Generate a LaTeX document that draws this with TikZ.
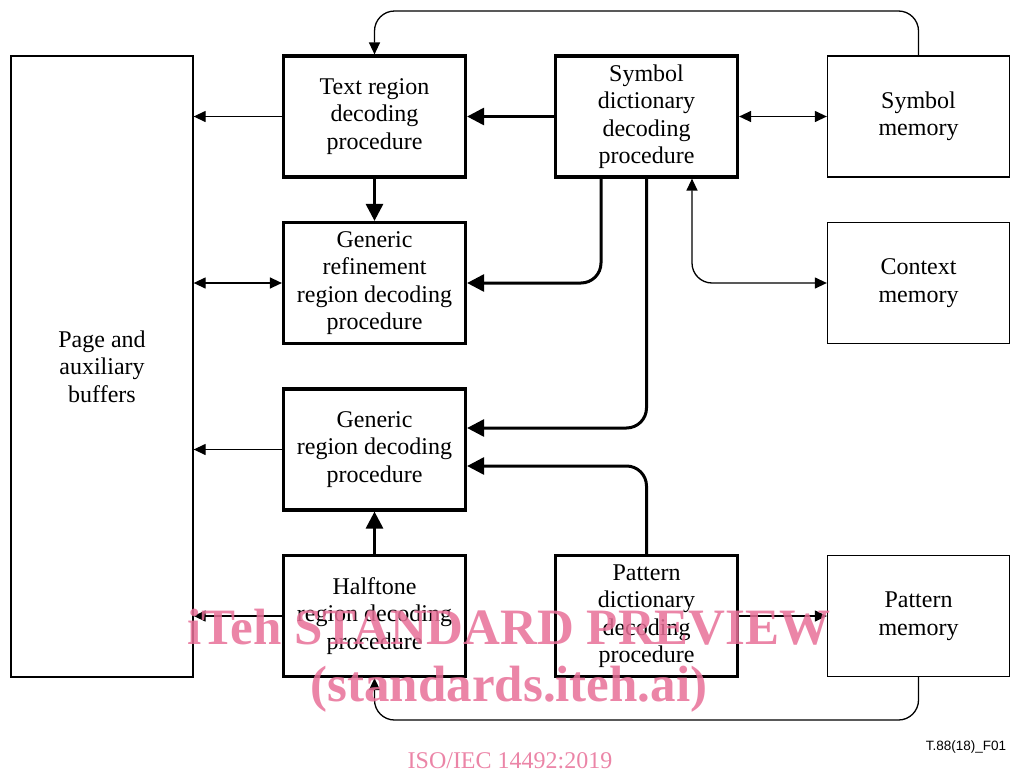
\documentclass[tikz,border=0pt]{standalone}
\usepackage{fontspec}
\setmainfont{Liberation Serif}
\newfontfamily\labelfont{Liberation Sans}
\usetikzlibrary{positioning,arrows.meta}
\definecolor{wmpink}{RGB}{232,112,152}

\begin{document}
\begin{tikzpicture}[x=1pt,y=1pt,on grid,node distance=166.5pt and 272pt,
    box/.style={draw,rectangle,align=center,minimum width=182pt,minimum height=121pt,
                inner sep=2pt,font=\fontsize{24}{27.5}\selectfont},
    proc node/.style={box,line width=3.2pt},
    mem node/.style={box,line width=1.3pt},
    thin link/.style={line width=1.3pt,-{Triangle[length=12pt,width=11pt]}},
    thick link/.style={line width=3pt,-{Triangle[length=17pt,width=17pt]}},
    both thin/.style={line width=1.3pt,{Triangle[length=12pt,width=11pt]}-{Triangle[length=12pt,width=11pt]}},
    wm/.style={text=wmpink,opacity=0.85,font=\bfseries\fontsize{51}{51}\selectfont}]

  \useasboundingbox (0,0) rectangle (1013,-774);

  \node[mem node,minimum height=621pt] (page) at (102,-366.5) {Page and\\auxiliary\\buffers};

  \node[proc node] (text) at (374.5,-116.5) {Text region\\decoding\\procedure};
  \node[proc node] (symdict) [right=of text] {Symbol\\dictionary\\decoding\\procedure};
  \node[mem node] (symmem) [right=of symdict] {Symbol\\memory};
  \node[proc node] (refine) [below=of text] {Generic\\refinement\\region decoding\\procedure};
  \node[mem node] (context) [below=of symmem] {Context\\memory};
  \node[proc node] (generic) [below=of refine] {Generic\\region decoding\\procedure};
  \node[proc node] (halftone) [below=of generic] {Halftone\\region decoding\\procedure};
  \node[proc node] (patdict) [right=of halftone] {Pattern\\dictionary\\decoding\\procedure};
  \node[mem node] (patmem) [right=of patdict] {Pattern\\memory};

  \coordinate (top) at (0,-11);
  \coordinate (bottom) at (0,-720);

  \draw[thin link] (text.west) -- (text.west -| page.east);
  \draw[thick link] (symdict.west) -- (text.east);
  \draw[both thin] (symdict.east) -- (symmem.west);
  \draw[thick link] (text.south) -- (refine.north);
  \draw[both thin] (refine.west) -- (refine.west -| page.east);
  \draw[thick link,rounded corners=20pt] ([xshift=-45.5pt]symdict.south) |- (refine.east);
  \draw[thick link,rounded corners=20pt] (symdict.south) |- ([yshift=21.5pt]generic.east);
  \draw[both thin,rounded corners=20pt] (context.west) -| ([xshift=45.5pt]symdict.south);
  \draw[thin link] (generic.west) -- (generic.west -| page.east);
  \draw[thick link] (halftone.north) -- (generic.south);
  \draw[thick link,rounded corners=20pt] (patdict.north) |- ([yshift=-16.5pt]generic.east);
  \draw[thin link] (halftone.west) -- (halftone.west -| page.east);
  \draw[thin link] (patdict.east) -- (patmem.west);
  \draw[thin link,rounded corners=20pt] (symmem.north) -- (symmem.north |- top) -| (text.north);
  \draw[thin link,rounded corners=20pt] (patmem.south) -- (patmem.south |- bottom) -| (halftone.south);

  \node[font=\labelfont\fontsize{13.5}{13.5}\selectfont] (fig) at (966,-747) {T.88(18)\_F01};

  % watermark
  \node[wm] (wm1) at (509,-627) {iTeh STANDARD PREVIEW};
  \node[wm] (wm2) at (509,-689) {(standards.iteh.ai)};
  \node[text=wmpink,opacity=0.85,font=\fontsize{24}{24}\selectfont] (iso) at (510,-761) {ISO/IEC 14492:2019};
\end{tikzpicture}
\end{document}
